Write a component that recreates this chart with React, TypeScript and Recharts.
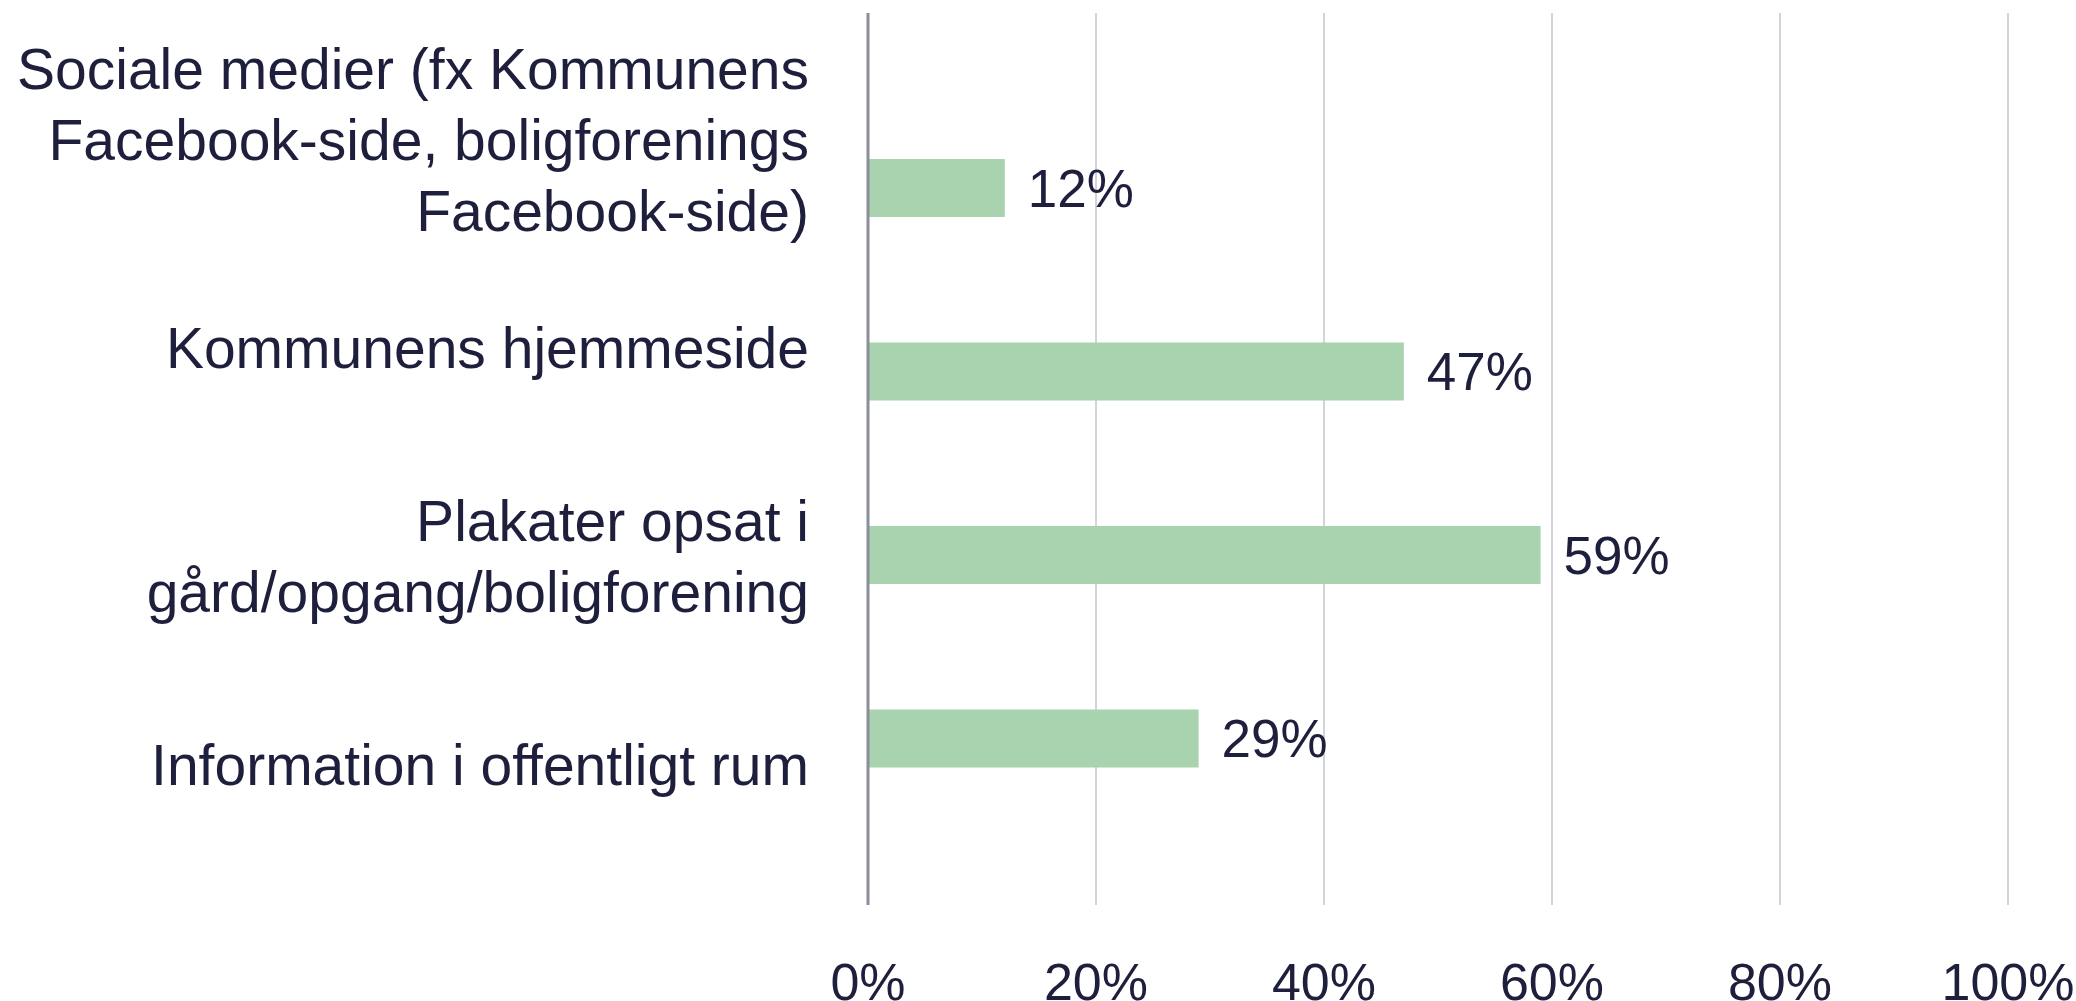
import { BarChart, Bar, XAxis, YAxis, CartesianGrid, LabelList } from "recharts";

const categories = [
  "Sociale medier (fx Kommunens\nFacebook-side, boligforenings\nFacebook-side)",
  "Kommunens hjemmeside",
  "Plakater opsat i\ngård/opgang/boligforening",
  "Information i offentligt rum",
];
const shares = [12, 47, 59, 29];
const xTicks = [0, 20, 40, 60, 80, 100];

const data = categories.map((name, i) => ({ name, value: shares[i] }));

const INK = "#1e1f3c";
const FONT = "'Liberation Sans', Arial, sans-serif";

/** Right-aligned category label, split on line breaks and centred on the tick. */
function CategoryTick({ x, y, payload }: any) {
  const lines = String(payload.value).split("\n");
  const lineH = 71;
  const fs = 57;
  return (
    <text x={x} y={y} textAnchor="end" fill={INK} fontSize={fs} fontFamily={FONT}>
      {lines.map((line, i) => (
        <tspan key={i} x={x} dy={i === 0 ? -((lines.length - 1) * lineH) / 2 + 0.35 * fs : lineH}>
          {line}
        </tspan>
      ))}
    </text>
  );
}

export default function App() {
  return (
    <>
      <style>{`body{margin:0}`}</style>
      <BarChart
        width={2076}
        height={1001}
        data={data}
        layout="vertical"
        margin={{ top: 13, right: 68, bottom: 0, left: 0 }}
      >
        <CartesianGrid horizontal={false} stroke="#d3d3dc" strokeWidth={2} yAxisId="bars" />
        <XAxis
          type="number"
          domain={[0, 100]}
          ticks={xTicks}
          tickFormatter={(v) => `${v}%`}
          axisLine={false}
          tickLine={false}
          tickSize={0}
          tickMargin={58}
          height={96}
          interval={0}
          tick={{ fill: INK, fontSize: 52, fontFamily: FONT }}
        />
        <YAxis yAxisId="bars" type="category" dataKey="name" hide width={0} padding={{ top: 83, bottom: 75 }} />
        <YAxis
          yAxisId="labels"
          type="category"
          dataKey="name"
          width={868}
          padding={{ top: 23, bottom: 36 }}
          axisLine={{ stroke: "#8b8e9c", strokeWidth: 3 }}
          tickLine={false}
          tickSize={0}
          tickMargin={59}
          interval={0}
          tick={<CategoryTick />}
        />
        <Bar yAxisId="bars" dataKey="value" fill="#a8d3ae" barSize={58} isAnimationActive={false}>
          <LabelList
            dataKey="value"
            position="right"
            offset={23}
            formatter={(v: any) => `${v}%`}
            fill={INK}
            fontSize={53}
            fontFamily={FONT}
          />
        </Bar>
      </BarChart>
    </>
  );
}
